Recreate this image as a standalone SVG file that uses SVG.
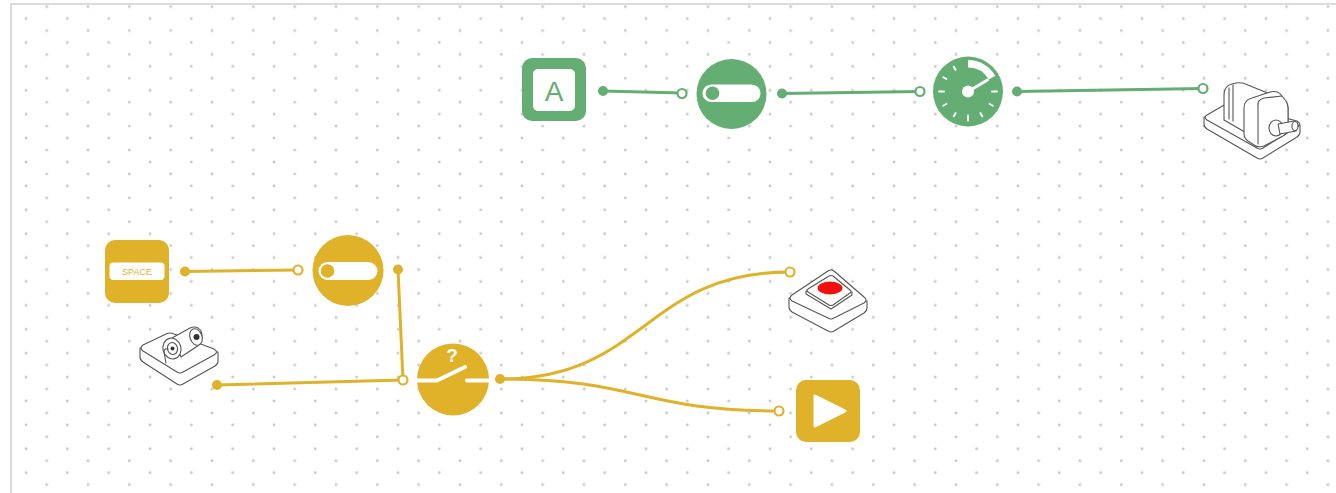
<svg xmlns="http://www.w3.org/2000/svg" width="1336" height="493" viewBox="0 0 1336 493">
  <defs>
    <pattern id="dots" patternUnits="userSpaceOnUse" x="36.7" y="0.7" width="41.33" height="23.9">
      <circle cx="10" cy="6" r="1.4" fill="#c8c8c8"/>
      <circle cx="30.67" cy="17.95" r="1.4" fill="#c8c8c8"/>
    </pattern>
    <style>
      .g { fill: #64ae73; }
      .y { fill: #dfb229; }
      .gl { stroke: #64ae73; stroke-width: 3; fill: none; stroke-linecap: round; }
      .yl { stroke: #dfb229; stroke-width: 3; fill: none; stroke-linecap: round; }
      .gin { fill: #fff; stroke: #64ae73; stroke-width: 2.2; }
      .yin { fill: #fff; stroke: #dfb229; stroke-width: 2.2; }
      .w { fill: #fff; }
      .ws { stroke: #fff; fill: none; stroke-linecap: round; }
      .dev { fill: #fff; stroke: #555; stroke-width: 1.1; stroke-linejoin: round; }
      .devl { fill: none; stroke: #555; stroke-width: 1.1; stroke-linejoin: round; stroke-linecap: round; }
      .lbl { font-family: "Liberation Sans", Arial, sans-serif; text-anchor: middle; }
    </style>
  </defs>

  <!-- canvas -->
  <rect x="0" y="0" width="1336" height="493" fill="#fff"/>
  <rect x="11" y="4" width="1340" height="500" fill="url(#dots)" stroke="#cfcfcf" stroke-width="1.5"/>

  <!-- connectors -->
  <g id="connectors">
    <path class="gl" d="M603,91 L682,93"/>
    <circle class="g" cx="603" cy="91" r="5"/>
    <circle class="gin" cx="682" cy="93.5" r="4.5"/>

    <path class="gl" d="M782,93.5 L920,91.5"/>
    <circle class="g" cx="782" cy="93.5" r="5"/>
    <circle class="gin" cx="920" cy="91.5" r="4.5"/>

    <path class="gl" d="M1017,91.5 L1203,88.5"/>
    <circle class="g" cx="1017" cy="91.5" r="5"/>
    <circle class="gin" cx="1203" cy="88.5" r="4.5"/>

    <path class="yl" d="M185,271.5 L298,270"/>
    <circle class="y" cx="185" cy="271.5" r="5"/>
    <circle class="yin" cx="298" cy="270" r="4.5"/>

    <path class="yl" d="M398,269.5 L403,380"/>
    <circle class="y" cx="398" cy="269.5" r="5"/>

    <path class="yl" d="M217,385 L403,380"/>
    <circle class="y" cx="217" cy="385" r="5"/>
    <circle class="yin" cx="403" cy="380" r="4.5"/>

    <path class="yl" d="M500,379 C645,379 645,272 790,272"/>
    <path class="yl" d="M500,379 C640,379 640,411 779,411"/>
    <circle class="y" cx="500" cy="379" r="5"/>
    <circle class="yin" cx="790" cy="272" r="4.5"/>
    <circle class="yin" cx="779" cy="411" r="4.5"/>
  </g>

  <!-- key A -->
  <g id="key-a">
    <rect class="g" x="522" y="58" width="64" height="63" rx="10"/>
    <rect class="w" x="533" y="69" width="42" height="42" rx="5"/>
    <text class="lbl" x="554" y="101" font-size="28" fill="#64ae73">A</text>
  </g>

  <!-- toggle (green) -->
  <g id="toggle-green">
    <circle class="g" cx="731.5" cy="94" r="35"/>
    <rect class="w" x="702.5" y="84.5" width="58" height="17.5" rx="8.75"/>
    <circle class="g" cx="712.5" cy="93.3" r="6.8"/>
  </g>

  <!-- gauge -->
  <g id="gauge">
    <circle class="g" cx="968" cy="91.5" r="35"/>
    <path class="w" d="M968,60 A31.5,31.5 0 0 1 995.3,75.75 L988.8,79.5 A24,24 0 0 0 968,67.5 Z"/>
    <g transform="translate(968 91.5)">
      <g class="ws" stroke-width="2">
        <line x1="24" y1="0" x2="29" y2="0" transform="rotate(0)"/>
        <line x1="25" y1="0" x2="28.5" y2="0" transform="rotate(30)"/>
        <line x1="25" y1="0" x2="28.5" y2="0" transform="rotate(60)"/>
        <line x1="24" y1="0" x2="29" y2="0" transform="rotate(90)"/>
        <line x1="25" y1="0" x2="28.5" y2="0" transform="rotate(120)"/>
        <line x1="25" y1="0" x2="28.5" y2="0" transform="rotate(150)"/>
        <line x1="24" y1="0" x2="29" y2="0" transform="rotate(180)"/>
        <line x1="25" y1="0" x2="28.5" y2="0" transform="rotate(210)"/>
        <line x1="25" y1="0" x2="28.5" y2="0" transform="rotate(240)"/>
      </g>
      <line class="ws" stroke-width="3" x1="0" y1="0" x2="19.5" y2="-11.5"/>
      <circle class="w" cx="0" cy="0" r="6"/>
    </g>
  </g>

  <!-- DC motor -->
  <g id="motor">
    <!-- base slab -->
    <path class="dev" d="M1204,117 L1204,124 Q1204,127 1207,129 L1257,158 Q1260,160 1263,158 L1297,137 Q1300,135 1300,132 L1300,125 Z"/>
    <path class="dev" d="M1207,115 L1226,104 Q1229,102 1232,104 L1297,121 Q1302,124 1297,127 L1263,148 Q1260,150 1257,148 L1207,120 Q1203,117 1207,115 Z"/>
    <!-- motor housing -->
    <path class="dev" d="M1224,118 L1224,95 Q1224,86 1232,84 L1236,83 Q1242,82 1248,85 L1282,99 Q1288,102 1288,108 L1288,128 L1262,142 L1224,120 Z"/>
    <path class="devl" d="M1229,88 L1229,119"/>
    <path class="devl" d="M1233,85 L1233,121"/>
    <!-- gear housing front -->
    <path class="dev" d="M1244,108 Q1244,100 1252,98 L1270,92 Q1278,90 1282,96 L1286,101 Q1288,104 1288,108 L1288,128 Q1288,133 1283,136 L1264,146 Q1258,148 1254,145 L1248,141 Q1244,138 1244,134 Z"/>
    <path class="devl" d="M1258,104 Q1258,100 1264,98 L1282,96"/>
    <path class="devl" d="M1258,104 L1258,144"/>
    <!-- shaft -->
    <ellipse class="dev" cx="1276" cy="128" rx="7" ry="8"/>
    <path class="dev" d="M1278,124 L1294,121 Q1298,122 1298,126 L1296,131 L1280,134 Z"/>
    <ellipse class="dev" cx="1295" cy="126" rx="3" ry="4.5"/>
  </g>

  <!-- key SPACE -->
  <g id="key-space">
    <rect class="y" x="105" y="240" width="64" height="63" rx="10"/>
    <rect class="w" x="109.5" y="262.5" width="55" height="17.5" rx="4"/>
    <text class="lbl" x="137" y="274.8" font-size="9" fill="#dfb229">SPACE</text>
  </g>

  <!-- toggle (yellow) -->
  <g id="toggle-yellow">
    <circle class="y" cx="348" cy="270.5" r="35.5"/>
    <rect class="w" x="318.5" y="262" width="59" height="18" rx="9"/>
    <circle class="y" cx="327.5" cy="271" r="6.8"/>
  </g>

  <!-- servo -->
  <g id="servo">
    <path class="dev" d="M140,348 L140,357 Q140,360 143,362 L177,384 Q180,386 183,384 L215,366 Q218,364 218,361 L218,352 Z"/>
    <path class="dev" d="M143,345 L166,334 Q170,332 174,334 L214,349 Q219,352 214,355 L183,372 Q180,374 177,372 L143,351 Q139,348 143,345 Z"/>
    <!-- barrel -->
    <path class="dev" d="M172,338 L190,328 Q197,325 201,331 Q204,338 199,345 L181,357 Z"/>
    <ellipse class="dev" cx="196" cy="337" rx="6" ry="8.5" transform="rotate(-20 196 337)"/>
    <circle fill="#333" cx="196.5" cy="337" r="3"/>
    <ellipse class="dev" cx="172" cy="348.5" rx="9" ry="10.5" transform="rotate(-15 172 348.5)"/>
    <ellipse class="dev" cx="172.5" cy="348.5" rx="5" ry="6" transform="rotate(-15 172.5 348.5)"/>
    <circle fill="#333" cx="172.5" cy="348.5" r="2"/>
    <path class="devl" d="M166,363 L164,352 Q164,348 168,349"/>
  </g>

  <!-- switch -->
  <g id="switch">
    <circle class="y" cx="453" cy="379.5" r="36"/>
    <path class="ws" stroke-width="4" stroke-linecap="butt" d="M417,380.5 L437,380.5 L465,367"/>
    <path class="ws" stroke-width="4" stroke-linecap="butt" d="M467,380.5 L489,380.5"/>
    <text class="lbl" x="452" y="362" font-size="19" font-weight="bold" fill="#fff">?</text>
  </g>

  <!-- push button -->
  <g id="button">
    <path class="dev" d="M789,298 L789,307 Q789,310 792,312 L828,331 Q831,333 834,331 L864,313 Q867,311 867,308 L867,301 Z"/>
    <path class="dev" d="M792,295 L828,271 Q831,269 834,271 L864,297 Q868,300 864,303 L834,318 Q831,320 828,318 L792,301 Q788,298 792,295 Z"/>
    <path class="dev" d="M806,291 L806,294 L831,309 L852,295 L852,292 Z"/>
    <path class="dev" d="M808,289 L829,276 Q831,275 833,276 L850,290 Q852,292 850,293 L833,305 Q831,306 829,305 L808,292 Q806,290 808,289 Z"/>
    <ellipse cx="830" cy="288" rx="12.5" ry="6.5" fill="#f01010"/>
  </g>

  <!-- play -->
  <g id="play">
    <rect class="y" x="796" y="380" width="64" height="62" rx="10"/>
    <path class="w" stroke="#fff" stroke-width="3" stroke-linejoin="round" d="M815,396 L815,426 L845,411 Z"/>
  </g>
</svg>
